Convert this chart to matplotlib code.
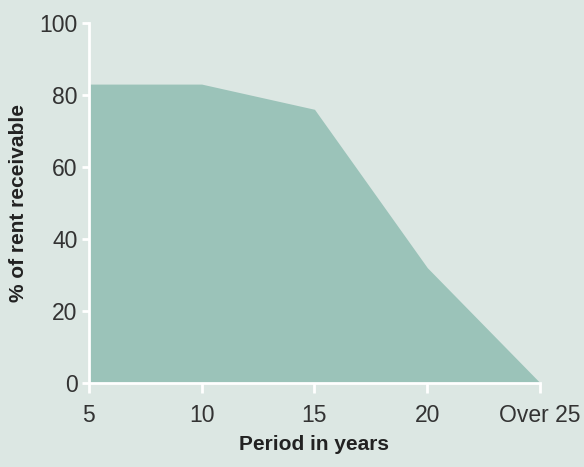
import matplotlib
matplotlib.use("Agg")
import matplotlib.pyplot as plt

# share of rent receivable by lease period
periods = [5, 10, 15, 20, 25]
period_labels = ["5", "10", "15", "20", "Over 25"]
rent_pct = [83, 83, 76, 32, 0]

BG = "#dce7e3"
FILL = "#9bc3b9"
TEXT = "#333333"

plt.rcParams["font.family"] = ["Liberation Sans", "DejaVu Sans"]

fig = plt.figure(figsize=(5.84, 4.67), dpi=100, facecolor=BG)
ax = fig.add_axes([0.152, 0.18, 0.773, 0.771], facecolor=BG)

ax.fill_between(periods, rent_pct, 0, color=FILL, linewidth=0)

ax.set_xlim(5, 25)
ax.set_ylim(0, 100)
ax.set_xticks(periods)
ax.set_xticklabels(period_labels)
ax.set_yticks([0, 20, 40, 60, 80, 100])

for side in ("top", "right"):
    ax.spines[side].set_visible(False)
for side in ("left", "bottom"):
    ax.spines[side].set_color("white")
    ax.spines[side].set_linewidth(2)
    ax.spines[side].set_zorder(5)

ax.tick_params(axis="y", colors="white", width=2, length=5, labelcolor=TEXT,
               labelsize=16.5, pad=3)
ax.tick_params(axis="x", colors="white", width=2, length=7, labelcolor=TEXT,
               labelsize=16.5, pad=8)

ax.set_xlabel("Period in years", fontsize=15, fontweight="bold", color="#222222",
              labelpad=6)
ax.set_ylabel("% of rent receivable", fontsize=15, fontweight="bold", color="#222222",
              labelpad=8)

fig.savefig("out.png", dpi=100, facecolor=BG)
